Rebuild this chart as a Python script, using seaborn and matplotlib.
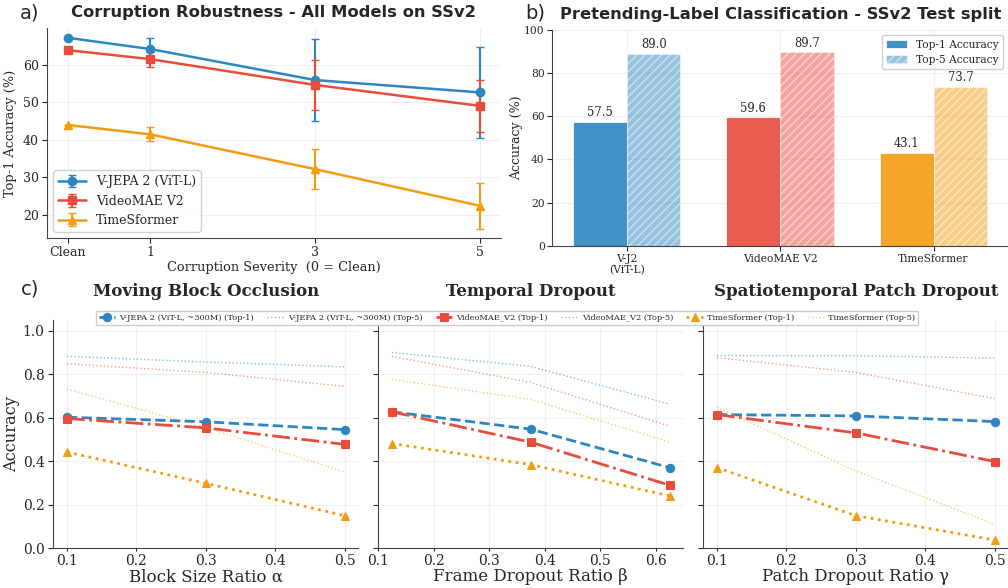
import numpy as np
import pandas as pd
import matplotlib
matplotlib.use("Agg")
import matplotlib.pyplot as plt
import seaborn as sns

# ── Style ────────────────────────────────────────────────
sns.set_style("ticks")
plt.rcParams.update({
    "font.family": "serif",
    "font.serif": ["DejaVu Serif"],
    "axes.edgecolor": "#444444",
    "grid.color": "#e6e6e6",
    "grid.linewidth": 0.8,
    "xtick.major.size": 3.5,
    "ytick.major.size": 3.5,
    "xtick.major.pad": 2.5,
    "ytick.major.pad": 2.5,
})

BLUE = "#2E86C1"
RED = "#E74C3C"
ORANGE = "#F39C12"
COLORS = [BLUE, RED, ORANGE]

# ── Data: (a) corruption robustness ──────────────────────
severity = [0, 1, 3, 5]
severity_labels = ["Clean", "1", "3", "5"]
models_a = ["V-JEPA 2 (ViT-L)", "VideoMAE V2", "TimeSformer"]
acc_vjepa = [67.3, 64.3, 56.0, 52.7]
err_vjepa = [0.0, 3.0, 11.0, 12.2]
acc_vmae = [64.0, 61.6, 54.7, 49.1]
err_vmae = [0.0, 2.0, 6.6, 7.0]
acc_tsf = [44.0, 41.5, 32.2, 22.4]
err_tsf = [0.0, 1.9, 5.4, 6.1]

# ── Data: (b) pretending-label classification ────────────
models_b = ["V-J2\n(ViT-L)", "VideoMAE V2", "TimeSformer"]
top1_b = [57.5, 59.6, 43.1]
top5_b = [89.0, 89.7, 73.7]

# ── Data: (c) occlusion sweeps ───────────────────────────
series_names = ["V-JEPA 2 (ViT-L, ~300M)", "VideoMAE_V2", "TimeSformer"]

occ_x = [0.1, 0.3, 0.5]
occ_top1 = [[0.602, 0.581, 0.545], [0.596, 0.553, 0.477], [0.442, 0.298, 0.149]]
occ_top5 = [[0.882, 0.856, 0.834], [0.848, 0.808, 0.744], [0.731, 0.555, 0.350]]

tmp_x = [0.125, 0.375, 0.625]
tmp_top1 = [[0.627, 0.547, 0.370], [0.627, 0.487, 0.289], [0.481, 0.384, 0.240]]
tmp_top5 = [[0.900, 0.836, 0.662], [0.882, 0.762, 0.561], [0.776, 0.684, 0.488]]

pd_x = [0.1, 0.3, 0.5]
pd_top1 = [[0.614, 0.608, 0.582], [0.614, 0.530, 0.398], [0.370, 0.149, 0.037]]
pd_top5 = [[0.886, 0.885, 0.874], [0.876, 0.808, 0.688], [0.648, 0.355, 0.109]]

fig = plt.figure(figsize=(10.08, 5.88), dpi=100)

# ═════════════ (a) ═════════════
ax = fig.add_axes([0.0466, 0.595, 0.45, 0.357])
markers_a = ["o", "s", "^"]
for name, acc, err, c, m in zip(models_a, [acc_vjepa, acc_vmae, acc_tsf],
                                [err_vjepa, err_vmae, err_tsf], COLORS, markers_a):
    ax.errorbar(severity, acc, yerr=err, color=c, marker=m, markersize=6,
                lw=1.8, capsize=3, elinewidth=1.5, label=name)
ax.set_xticks(severity)
ax.set_xticklabels(severity_labels, fontsize=9)
ax.tick_params(axis="y", labelsize=9)
ax.set_xlabel("Corruption Severity  (0 = Clean)", fontsize=9.3, labelpad=1)
ax.set_ylabel("Top-1 Accuracy (%)", fontsize=9.3, labelpad=4)
ax.grid(True, alpha=0.6)
sns.despine(ax=ax)
ax.legend(loc="lower left", fontsize=9, framealpha=0.9, handlelength=2.2)
ax.set_title("Corruption Robustness - All Models on SSv2", fontsize=11.8,
             fontweight="bold", family="DejaVu Sans", pad=8)

# ═════════════ (b) ═════════════
ax = fig.add_axes([0.548, 0.582, 0.452, 0.367])
xb = np.arange(len(models_b))
w = 0.35
b1 = ax.bar(xb - w / 2, top1_b, w, color=COLORS, alpha=0.9, edgecolor="white",
            linewidth=0.6, label="Top-1 Accuracy")
b5 = ax.bar(xb + w / 2, top5_b, w, color=COLORS, alpha=0.5, edgecolor="white",
            linewidth=0.6, hatch="////", label="Top-5 Accuracy")
for bar, val in zip(list(b1) + list(b5), top1_b + top5_b):
    ax.text(bar.get_x() + bar.get_width() / 2, val + 1.2, f"{val:.1f}",
            ha="center", va="bottom", fontsize=8.3)
ax.set_ylim(0, 100)
ax.set_xticks(xb)
ax.set_xticklabels(models_b, fontsize=7.7, linespacing=1.05)
ax.tick_params(axis="y", labelsize=7.7, pad=2)
ax.set_ylabel("Accuracy (%)", fontsize=9, labelpad=1)
ax.grid(True, alpha=0.6)
ax.set_axisbelow(True)
sns.despine(ax=ax)
ax.legend(loc="upper right", fontsize=7.7, framealpha=0.9)
ax.set_title("Pretending-Label Classification - SSv2 Test split", fontsize=11.8,
             fontweight="bold", family="DejaVu Sans", pad=8)

# ═════════════ (c) ═════════════
panels = [
    ("Moving Block Occlusion", "Block Size Ratio α", occ_x, occ_top1, occ_top5),
    ("Temporal Dropout", "Frame Dropout Ratio β", tmp_x, tmp_top1, tmp_top5),
    ("Spatiotemporal Patch Dropout", "Patch Dropout Ratio γ", pd_x, pd_top1, pd_top5),
]
lefts = [0.0526, 0.375, 0.6975]
styles = [("--", "o"), ("-.", "s"), (":", "^")]
axes_c = []
for i, (title, xlabel, xs, t1, t5) in enumerate(panels):
    ax = fig.add_axes([lefts[i], 0.068, 0.303, 0.388])
    axes_c.append(ax)
    for name, y1, y5, c, (ls, m) in zip(series_names, t1, t5, COLORS, styles):
        sns.lineplot(x=xs, y=y1, ax=ax, color=c, linestyle=ls, marker=m,
                     markersize=6, markeredgecolor=c, lw=2,
                     label=f"{name} (Top-1)", errorbar=None, sort=False)
        sns.lineplot(x=xs, y=y5, ax=ax, color=c, linestyle=":", lw=1,
                     alpha=0.55, label=f"{name} (Top-5)", errorbar=None, sort=False)
    if ax.get_legend() is not None:
        ax.get_legend().remove()
    ax.set_ylim(0, 1.05)
    ax.set_title(title, fontsize=12, fontweight="bold", pad=17)
    ax.set_xlabel(xlabel, fontsize=12, labelpad=0)
    ax.tick_params(labelsize=10)
    ax.tick_params(axis="x", length=2.5, pad=2)
    ax.grid(True, alpha=0.6)
    ax.set_yticks(np.arange(0, 1.01, 0.2))
    if i == 0:
        ax.set_ylabel("Accuracy", fontsize=11.7, labelpad=2)
    else:
        ax.set_ylabel("")
        ax.tick_params(axis="y", labelleft=False)
    sns.despine(ax=ax)
    if i == 1:
        ax.set_xticks([0.1, 0.2, 0.3, 0.4, 0.5, 0.6])
    else:
        ax.set_xticks([0.1, 0.2, 0.3, 0.4, 0.5])

handles, labels = axes_c[0].get_legend_handles_labels()
fig.legend(handles[:6], labels[:6],
           loc="center", bbox_to_anchor=(0.503, 0.459), ncol=6, fontsize=5.95,
           framealpha=1.0, handlelength=2.0, columnspacing=1.6,
           handletextpad=0.5, borderpad=0.35, fancybox=True)

# panel letters
fig.text(0.02, 0.978, "a)", fontsize=14, family="DejaVu Sans", va="center")
fig.text(0.521, 0.978, "b)", fontsize=14, family="DejaVu Sans", va="center")
fig.text(0.021, 0.508, "c)", fontsize=14, family="DejaVu Sans", va="center")

fig.savefig("out.png", dpi=100)
